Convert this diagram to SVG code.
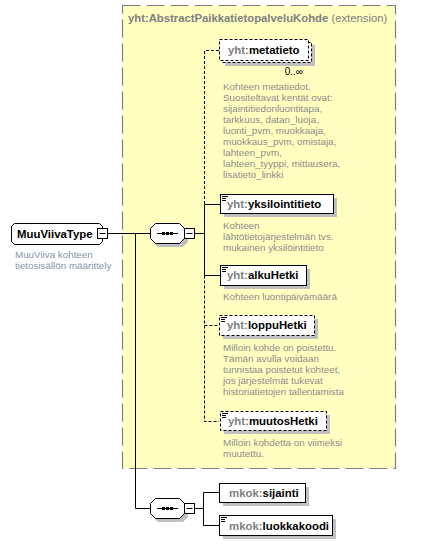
<svg xmlns="http://www.w3.org/2000/svg" width="438" height="545" viewBox="0 0 438 545">
<style>
text{font-family:"Liberation Sans",Arial,sans-serif}
.lbl{font-size:11.4px;font-weight:bold;fill:#000}
.pfx{fill:#808080}
.desc{font-size:9.8px;fill:#8c8c8c}
.desc2{font-size:9.8px;fill:#8595a8}
.box{fill:#fff;stroke:#000;stroke-width:1}
.opt{stroke-dasharray:3,2}
.shd{fill:#c0c0c0}
.ln{stroke:#000;stroke-width:1;fill:none}
.dl{stroke:#000;stroke-width:1;fill:none;stroke-dasharray:3,2}
.ic{stroke:#000;stroke-width:1}
</style>
<rect x="0" y="0" width="438" height="545" fill="#fff"/>
<g id="extension">
<rect x="122.5" y="5.5" width="273" height="463" fill="#ffffc0" stroke="#808080" stroke-width="1.2" stroke-dasharray="18,6"/>
<text x="128" y="22" style="font-size:11.3px;font-weight:bold;fill:#808080">yht:AbstractPaikkatietopalveluKohde <tspan style="font-weight:normal">(extension)</tspan></text>
</g>
<g id="connectors">
<path class="ln" d="M107,233.5H150"/>
<path class="ln" d="M135.5,233.5V508.5H150"/>
<path class="ln" d="M194,233.5H204.5"/>
<path class="dl" d="M219,50.5H204.5V204"/>
<path class="ln" d="M220,204.5H204.5V275.5H220"/>
<path class="dl" d="M204.5,275.5V421.5H219"/>
<path class="dl" d="M204.5,325.5H219"/>
<path class="ln" d="M194,508.5H203.5"/>
<path class="ln" d="M219,492.5H203.5V525.5H219"/>
</g>
<g id="MuuViivaType">
<path class="box" d="M14.5,223.5H99.5L102.5,226.5V241.5L99.5,244.5H14.5L11.5,241.5V226.5Z"/>
<text class="lbl" x="17" y="238">MuuViivaType</text>
<rect class="box" x="97.5" y="228.5" width="10" height="10"/>
<path class="ic" d="M99.5,233.5H105.5"/>
<text class="desc2" x="15" y="258">MuuViiva kohteen</text>
<text class="desc2" x="15" y="269">tietosisällön määrittely</text>
</g>
<g id="sequence1">
<path class="shd" d="M158,226H183L188,231V242L183,247H158L153,242V231Z"/>
<path class="box" d="M155.5,223.5H179.5L184.5,228.5V238.5L179.5,243.5H155.5L150.5,238.5V228.5Z"/>
<path class="ic" d="M157,233.5H178"/>
<rect x="162" y="232" width="3" height="3" fill="#000"/>
<rect x="166" y="232" width="3" height="3" fill="#000"/>
<rect x="170" y="232" width="3" height="3" fill="#000"/>
<rect class="box" x="184.5" y="228.5" width="10" height="10"/>
<path class="ic" d="M186.5,233.5H192.5"/>
</g>
<g id="metatieto">
<rect class="shd" x="225" y="45" width="90" height="21"/>
<rect class="box opt" x="222.5" y="42.5" width="89" height="20"/>
<rect class="box opt" x="219.5" y="39.5" width="89" height="21"/>
<text class="lbl" x="228" y="54"><tspan class="pfx">yht:</tspan>metatieto</text>
<text x="303" y="75" text-anchor="end" style="font-size:10px;fill:#000">0..∞</text>
<text class="desc" x="223" y="90">Kohteen metatiedot.</text>
<text class="desc" x="223" y="101">Suositeltavat kentät ovat:</text>
<text class="desc" x="223" y="112">sijaintitiedonluontitapa,</text>
<text class="desc" x="223" y="123">tarkkuus, datan_luoja,</text>
<text class="desc" x="223" y="134">luonti_pvm, muokkaaja,</text>
<text class="desc" x="223" y="145">muokkaus_pvm, omistaja,</text>
<text class="desc" x="223" y="156">lahteen_pvm,</text>
<text class="desc" x="223" y="167">lahteen_tyyppi, mittausera,</text>
<text class="desc" x="223" y="178">lisatieto_linkki</text>
</g>
<g id="yksilointitieto">
<rect class="shd" x="224" y="198" width="113" height="19"/>
<rect class="box" x="220.5" y="194.5" width="113" height="19"/>
<path class="ic" d="M222,196.5H228M222,198.5H226M222,200.5H226"/>
<text class="lbl" x="227" y="208"><tspan class="pfx">yht:</tspan>yksilointitieto</text>
<text class="desc" x="223" y="229">Kohteen</text>
<text class="desc" x="223" y="240">lähtötietojärjestelmän  tvs.</text>
<text class="desc" x="223" y="251">mukainen yksilöintitieto</text>
</g>
<g id="alkuHetki">
<rect class="shd" x="224" y="269" width="86" height="20"/>
<rect class="box" x="220.5" y="265.5" width="86" height="20"/>
<path class="ic" d="M222,267.5H228M222,269.5H226M222,271.5H226"/>
<text class="lbl" x="227" y="279"><tspan class="pfx">yht:</tspan>alkuHetki</text>
<text class="desc" x="223" y="300">Kohteen luontipäivämäärä</text>
</g>
<g id="loppuHetki">
<rect class="shd" x="223" y="319" width="95" height="20"/>
<rect class="box opt" x="219.5" y="315.5" width="95" height="20"/>
<path class="ic" d="M221,317.5H227M221,319.5H225M221,321.5H225"/>
<text class="lbl" x="227" y="329"><tspan class="pfx">yht:</tspan>loppuHetki</text>
<text class="desc" x="223" y="351">Milloin kohde on poistettu.</text>
<text class="desc" x="223" y="362">Tämän avulla voidaan</text>
<text class="desc" x="223" y="373">tunnistaa poistetut kohteet,</text>
<text class="desc" x="223" y="384">jos järjestelmät tukevat</text>
<text class="desc" x="223" y="395">historiatietojen tallentamista</text>
</g>
<g id="muutosHetki">
<rect class="shd" x="224" y="415" width="106" height="19"/>
<rect class="box opt" x="220.5" y="411.5" width="106" height="19"/>
<path class="ic" d="M222,413.5H228M222,415.5H226M222,417.5H226"/>
<text class="lbl" x="228" y="425"><tspan class="pfx">yht:</tspan>muutosHetki</text>
<text class="desc" x="223" y="446">Milloin kohdetta on viimeksi</text>
<text class="desc" x="223" y="457">muutettu.</text>
</g>
<g id="sequence2">
<path class="shd" d="M158,501H183L188,506V517L183,522H158L153,517V506Z"/>
<path class="box" d="M155.5,498.5H179.5L184.5,503.5V513.5L179.5,518.5H155.5L150.5,513.5V503.5Z"/>
<path class="ic" d="M157,508.5H178"/>
<rect x="162" y="507" width="3" height="3" fill="#000"/>
<rect x="166" y="507" width="3" height="3" fill="#000"/>
<rect x="170" y="507" width="3" height="3" fill="#000"/>
<rect class="box" x="184.5" y="503.5" width="10" height="10"/>
<path class="ic" d="M186.5,508.5H192.5"/>
</g>
<g id="sijainti">
<rect class="shd" x="223" y="487" width="86" height="19"/>
<rect class="box" x="219.5" y="483.5" width="86" height="19"/>
<text class="lbl" x="229" y="497"><tspan class="pfx">mkok:</tspan>sijainti</text>
</g>
<g id="luokkakoodi">
<rect class="shd" x="223" y="519" width="113" height="20"/>
<rect class="box" x="219.5" y="515.5" width="113" height="20"/>
<path class="ic" d="M221,517.5H227M221,519.5H225M221,521.5H225"/>
<text class="lbl" x="229" y="530"><tspan class="pfx">mkok:</tspan>luokkakoodi</text>
</g>
</svg>
